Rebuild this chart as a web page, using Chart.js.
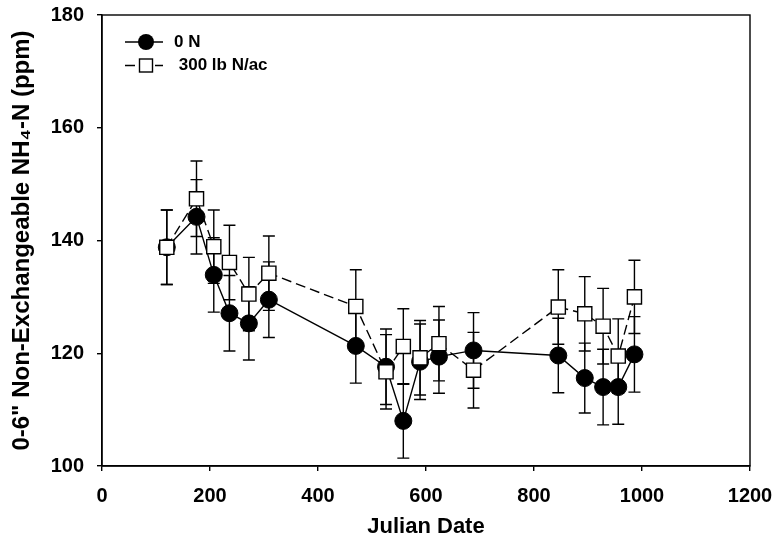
<!DOCTYPE html>
<html><head><meta charset="utf-8">
<script src="https://cdn.jsdelivr.net/npm/chart.js@4"></script>
<style>html,body{margin:0;padding:0;background:#fff;} #wrap{width:773px;height:546px;}</style>
</head><body><div id="wrap"><canvas id="c" width="773" height="546"></canvas></div>
<script>
const dates    = [120, 175, 207, 236, 272, 309, 470, 526, 558, 589, 624, 688, 845, 894, 928, 956, 986];
const zeroN    = [138.8, 144.2, 133.9, 127.1, 125.3, 129.5, 121.3, 117.6, 108.0, 118.5, 119.4, 120.5, 119.6, 115.6, 114.0, 114.0, 119.8];
const zeroNErr = [6.6, 6.6, 6.6, 6.7, 6.5, 6.7, 6.6, 6.7, 6.6, 6.7, 6.5, 6.7, 6.6, 6.2, 6.7, 6.6, 6.7];
const n300     = [138.8, 147.4, 138.9, 136.1, 130.5, 134.2, 128.3, 116.7, 121.2, 119.2, 121.7, 117.0, 128.2, 127.0, 124.8, 119.5, 130.0];
const n300Err  = [6.6, 6.7, 6.5, 6.6, 6.5, 6.6, 6.5, 6.6, 6.7, 6.6, 6.6, 6.7, 6.6, 6.6, 6.7, 6.6, 6.5];
const seriesLabels = ['0 N', ' 300 lb N/ac'];
const xRange = [0, 1200], xStep = 200;
const yRange = [100, 180], yStep = 20;
const xTitle = 'Julian Date';
const yTitle = '0-6" Non-Exchangeable NH\u2084-N (ppm)';

const FONT = "'Liberation Sans', Arial, sans-serif";

function pts(vals, errs) { return dates.map((d, i) => ({x: d, y: vals[i], e: errs[i]})); }

const errorBars = {
  id: 'errorBars',
  beforeDatasetsDraw(chart) {
    const {ctx, scales: {x, y}} = chart;
    ctx.save();
    ctx.strokeStyle = '#000'; ctx.lineWidth = 1.4; ctx.setLineDash([]);
    chart.data.datasets.forEach(ds => {
      ds.data.forEach(p => {
        const px = x.getPixelForValue(p.x);
        const t = y.getPixelForValue(p.y + p.e), b = y.getPixelForValue(p.y - p.e);
        ctx.beginPath();
        ctx.moveTo(px, t); ctx.lineTo(px, b);
        ctx.moveTo(px - 6, t); ctx.lineTo(px + 6, t);
        ctx.moveTo(px - 6, b); ctx.lineTo(px + 6, b);
        ctx.stroke();
      });
    });
    ctx.restore();
  }
};

const frame = {
  id: 'frame',
  afterDraw(chart) {
    const {ctx, chartArea: a} = chart;
    ctx.save();
    ctx.strokeStyle = '#000'; ctx.lineWidth = 1.4; ctx.setLineDash([]);
    ctx.strokeRect(a.left, a.top, a.right - a.left, a.bottom - a.top);
    ctx.restore();
  }
};

const insideLegend = {
  id: 'insideLegend',
  afterDraw(chart) {
    const {ctx, chartArea: {left, top}} = chart;
    ctx.save();
    seriesLabels.forEach((lab, i) => {
      const ds = chart.data.datasets.find(d => d.label === lab);
      const y = top + 27 + i * 23.5;
      const x0 = left + 23, x1 = left + 61, cx = left + 44;
      ctx.strokeStyle = '#000'; ctx.lineWidth = 1.4;
      ctx.setLineDash(ds.borderDash || []);
      ctx.beginPath(); ctx.moveTo(x0, y); ctx.lineTo(x1, y); ctx.stroke();
      ctx.setLineDash([]);
      if (ds.pointStyle === 'circle') {
        ctx.fillStyle = '#000';
        ctx.beginPath(); ctx.arc(cx, y, 8, 0, Math.PI * 2); ctx.fill();
      } else {
        ctx.fillStyle = '#fff';
        ctx.fillRect(cx - 6.5, y - 6.5, 13, 13);
        ctx.strokeRect(cx - 6.5, y - 6.5, 13, 13);
      }
      ctx.fillStyle = '#000';
      ctx.font = "bold 17px " + FONT;
      ctx.textBaseline = 'middle'; ctx.textAlign = 'left';
      ctx.fillText(ds.label, left + 72, y);
    });
    ctx.restore();
  }
};

new Chart(document.getElementById('c'), {
  type: 'line',
  data: {
    datasets: [
      {
        label: seriesLabels[1], data: pts(n300, n300Err), order: 1,
        borderColor: '#000', borderWidth: 1.4, borderDash: [10, 5],
        pointStyle: 'rect', pointRadius: 10, pointBackgroundColor: '#fff',
        pointBorderColor: '#000', pointBorderWidth: 1.4, fill: false, tension: 0
      },
      {
        label: seriesLabels[0], data: pts(zeroN, zeroNErr), order: 2,
        borderColor: '#000', borderWidth: 1.4,
        pointStyle: 'circle', pointRadius: 8.5, pointBackgroundColor: '#000',
        pointBorderColor: '#000', pointBorderWidth: 1, fill: false, tension: 0
      }
    ]
  },
  options: {
    responsive: false, animation: false, devicePixelRatio: 1,
    layout: {padding: {top: 15, right: 23, left: 0, bottom: 0}},
    plugins: {legend: {display: false}, tooltip: {enabled: false}},
    scales: {
      x: {
        type: 'linear', min: xRange[0], max: xRange[1],
        afterFit(s) { s.height = 80; s.paddingLeft = 0; s.paddingRight = 0; },
        ticks: {stepSize: xStep, padding: 13, color: '#000', font: {family: FONT, size: 20, weight: 'bold'}, maxRotation: 0,
                callback: v => String(v)},
        grid: {drawOnChartArea: false, drawTicks: true, tickLength: 5, color: '#000', lineWidth: 1.4},
        border: {display: true, color: '#000', width: 1.4},
        title: {display: true, text: xTitle, color: '#000', font: {family: FONT, size: 22, weight: 'bold'}, padding: {top: 0, bottom: 6}}
      },
      y: {
        type: 'linear', min: yRange[0], max: yRange[1],
        afterFit(s) { s.width = 102; s.paddingTop = 0; s.paddingBottom = 0; },
        ticks: {stepSize: yStep, padding: 13, color: '#000', font: {family: FONT, size: 20, weight: 'bold'},
                callback: v => String(v)},
        grid: {drawOnChartArea: false, drawTicks: true, tickLength: 5, color: '#000', lineWidth: 1.4},
        border: {display: true, color: '#000', width: 1.4},
        title: {display: true, text: yTitle, color: '#000', font: {family: FONT, size: 24, weight: 'bold'}, padding: {top: 8, bottom: 0}}
      }
    }
  },
  plugins: [errorBars, frame, insideLegend]
});
</script></body></html>
